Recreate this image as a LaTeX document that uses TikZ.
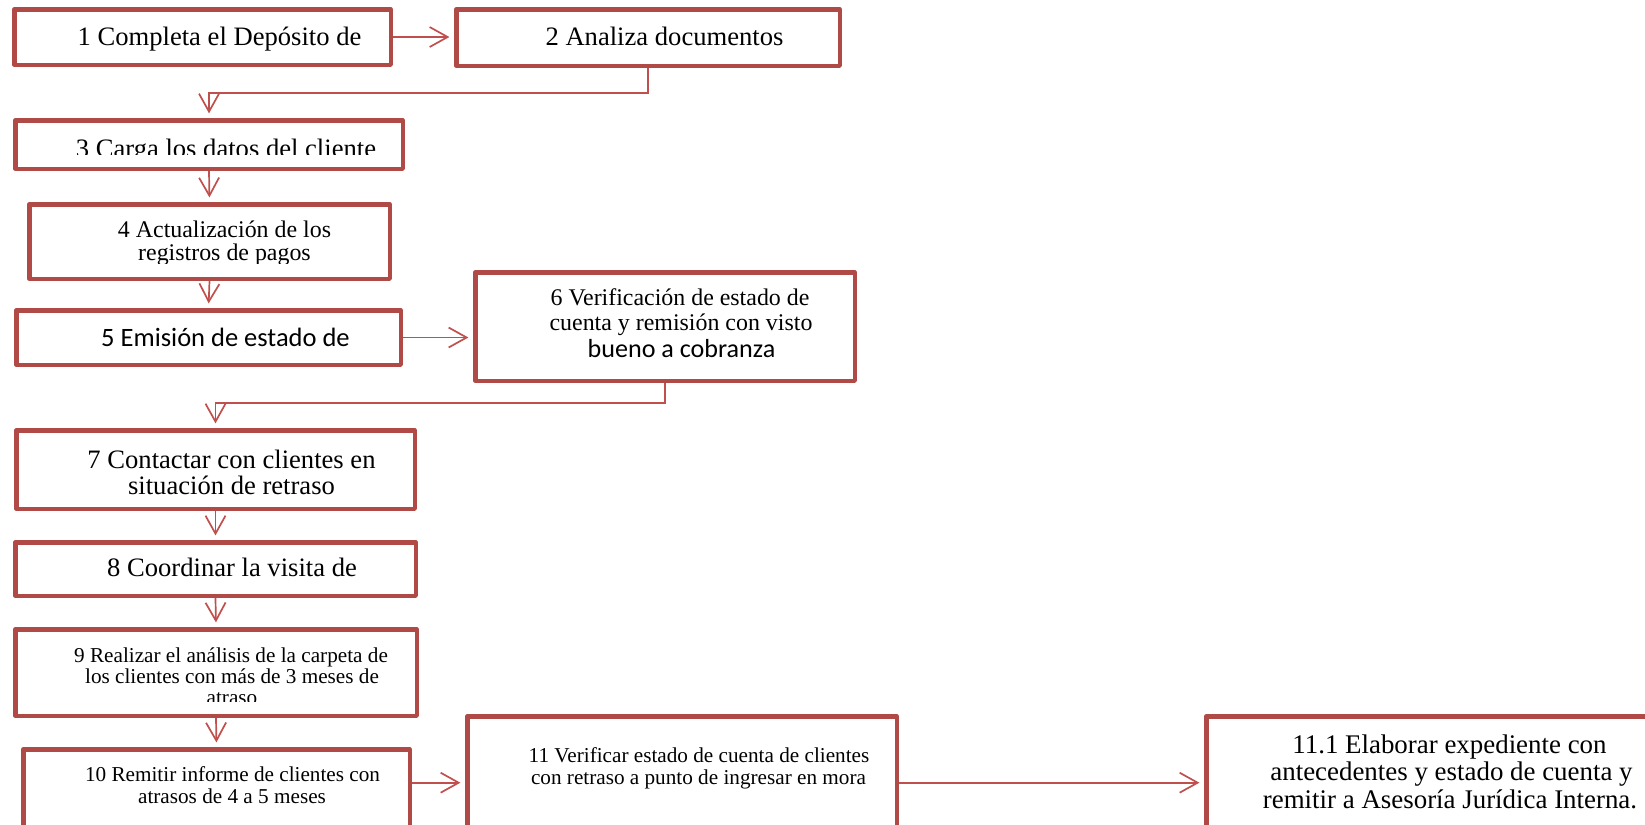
\documentclass[tikz,border=0pt]{standalone}
\usepackage{fontspec}
\setmainfont{Liberation Serif}
\newfontfamily\calib{Carlito}
\usetikzlibrary{arrows.meta}
\definecolor{bordc}{HTML}{B04A47}
\definecolor{arrc}{HTML}{C0504D}
\newcommand\szA{\fontsize{13.3pt}{14pt}\selectfont}
\newcommand\szB{\fontsize{11.95pt}{13pt}\selectfont}
\newcommand\szC{\fontsize{10.6pt}{12pt}\selectfont}
\newcommand\szD{\fontsize{13.45pt}{14pt}\selectfont}
\newcommand\szE{\calib\fontsize{13.25pt}{14pt}\selectfont}
\newcommand\szF{\calib\fontsize{13.05pt}{14pt}\selectfont}
\tikzset{
  fbox/.style={draw=bordc, line width=2.25pt, line join=round, rectangle, inner sep=0pt, fill=white},
  arr/.style={draw=arrc, line width=0.85pt, -{Straight Barb[length=9pt,width=10pt]}, shorten >=2.3pt},
  lbl/.style={anchor=base, inner sep=0pt, text=black},
}
\begin{document}
\begin{tikzpicture}[x=0.5pt,y=-0.5pt]
\useasboundingbox (0,0) rectangle (1645,825);
\clip (0,0) rectangle (1645,825);
\fill[white] (0,0) rectangle (1645,825);

% boxes
\node[fbox, minimum width=188.25pt, minimum height=27.75pt] (b1) at (202.5,37) {};
\node[fbox, minimum width=191.75pt, minimum height=28.25pt] (b2) at (648,37.5) {};
\node[fbox, minimum width=193.75pt, minimum height=24.25pt] (b3) at (209,144.5) {};
\node[fbox, minimum width=180.25pt, minimum height=37.25pt] (b4) at (209.5,241.5) {};
\node[fbox, minimum width=192.25pt, minimum height=27.25pt] (b5) at (208.5,337.5) {};
\node[fbox, minimum width=189.75pt, minimum height=54.25pt] (b6) at (665,326.5) {};
\node[fbox, minimum width=199.25pt, minimum height=39.25pt] (b7) at (215.5,469.5) {};
\node[fbox, minimum width=200.25pt, minimum height=26.75pt] (b8) at (215.5,569) {};
\node[fbox, minimum width=200.75pt, minimum height=43.25pt] (b9) at (216,672.5) {};
\node[fbox, minimum width=193.25pt, minimum height=46.75pt] (b10) at (216.5,796) {};
\node[fbox, minimum width=214.75pt, minimum height=63.25pt] (b11) at (682,779.5) {};
\node[fbox, minimum width=235.75pt, minimum height=63.25pt] (b12) at (1442,779.5) {};

% texts
\node[lbl, font=\szA] (t1) at (219.5,45.7) {1 Completa el Depósito de};
\node[lbl, font=\szA] (t2) at (664.5,45.7) {2 Analiza documentos};
\begin{scope}
  \clip (13,118) rectangle (405,154);
  \node[lbl, font=\szA] (t3) at (226,157) {3 Carga los datos del cliente};
\end{scope}
\begin{scope}
  \clip (27,202) rectangle (392,263.3);
  \node[lbl, font=\szB] (t4a) at (224.5,237.7) {4 Actualización de los};
  \node[lbl, font=\szB] (t4b) at (224.5,260.7) {registros de pagos};
\end{scope}
\node[lbl, font=\szE] (t5) at (225.5,346.7) {5 Emisión de estado de};
\node[lbl, font=\szB] (t6a) at (680,305.7) {6 Verificación de estado de};
\node[lbl, font=\szB] (t6b) at (681,330) {cuenta y remisión con visto};
\node[lbl, font=\szF] (t6c) at (681.5,357.7) {bueno a cobranza};
\node[lbl, font=\szA] (t7a) at (231.5,468.3) {7 Contactar con clientes en};
\node[lbl, font=\szA] (t7b) at (231.5,494) {situación de retraso};
\node[lbl, font=\szA] (t8) at (232,576.7) {8 Coordinar la visita de};
\begin{scope}
  \clip (13,627) rectangle (419,701.7);
  \node[lbl, font=\szC] (t9a) at (231,662.3) {9 Realizar el análisis de la carpeta de};
  \node[lbl, font=\szC] (t9b) at (232,683.3) {los clientes con más de 3 meses de};
  \node[lbl, font=\szC] (t9c) at (232,704.5) {atraso};
\end{scope}
\node[lbl, font=\szC] (t10a) at (232.5,781.7) {10 Remitir informe de clientes con};
\node[lbl, font=\szC] (t10b) at (232,803.3) {atrasos de 4 a 5 meses};
\node[lbl, font=\szC] (t11a) at (699,762.7) {11 Verificar estado de cuenta de clientes};
\node[lbl, font=\szC] (t11b) at (698.5,784.3) {con retraso a punto de ingresar en mora};
\node[lbl, font=\szD] (t12a) at (1449.5,753.3) {11.1 Elaborar expediente con};
\node[lbl, font=\szD] (t12b) at (1451.5,780) {antecedentes y estado de cuenta y};
\node[lbl, font=\szD] (t12c) at (1450,808.3) {remitir a Asesoría Jurídica Interna.};

% helper coordinates
\coordinate (k23) at (0,92.7);
\coordinate (k67) at (0,402.7);
\coordinate (kb) at (0,782.7);

% connectors
\draw[arr] (b1.east) -- (b2.west |- b1.east);
\draw[arr] (b2.south) -- (b2.south |- k23) -| (b3.north);
\draw[arr] (b3.south) -- (b4.north);
\draw[arr] (b4.south) -- (b5.north);
\draw[arr] (b5.east) -- (b6.west |- b5.east);
\draw[arr] (b6.south) -- (b6.south |- k67) -| (b7.north);
\draw[arr] (b7.south) -- (b8.north);
\draw[arr] (b8.south) -- (b9.north);
\draw[arr] (b9.south) -- (b10.north);
\draw[arr] (b10.east |- kb) -- (b11.west |- kb);
\draw[arr] (b11.east |- kb) -- (b12.west |- kb);
\end{tikzpicture}
\end{document}
